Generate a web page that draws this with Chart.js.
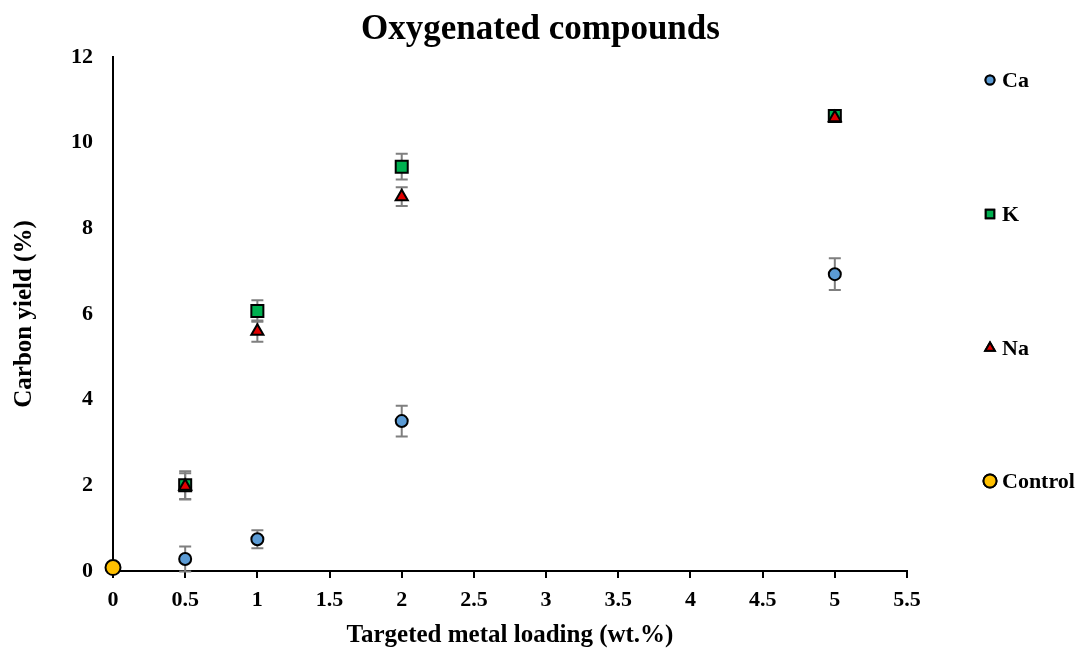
<!DOCTYPE html>
<html>
<head>
<meta charset="utf-8">
<script src="https://cdn.jsdelivr.net/npm/chart.js@4/dist/chart.umd.min.js"></script>
<style>
  html, body { margin: 0; padding: 0; background: #fff; }
  #wrap { width: 1081px; height: 655px; position: relative; }
</style>
</head>
<body>
<div id="wrap"><canvas id="chart"></canvas></div>
<script>
// metal loading (wt.%) and carbon yield (%) with standard deviations
const loadings = [0.5, 1, 2, 5];
const caYield = [0.28, 0.74, 3.50, 6.93];
const caErr = [0.29, 0.21, 0.36, 0.37];
const kYield = [2.00, 6.07, 9.44, 10.62];
const kErr = [0.33, 0.25, 0.30, 0.08];
const naYield = [1.98, 5.60, 8.74, 10.58];
const naErr = [0.30, 0.25, 0.22, 0.08];
const controlLoading = [0];
const controlYield = [0.08];
const controlErr = [0];
const xTicks = [0, 0.5, 1, 1.5, 2, 2.5, 3, 3.5, 4, 4.5, 5, 5.5];
const yTicks = [0, 2, 4, 6, 8, 10, 12];

const serif = "'Liberation Serif', 'Times New Roman', serif";

const pts = (xs, ys) => xs.map((x, i) => ({ x: x, y: ys[i] }));

const series = [
  { label: 'Ca', xs: loadings, ys: caYield, err: caErr, style: 'circle', color: '#5B9BD5', r: 6, order: 0 },
  { label: 'K', xs: loadings, ys: kYield, err: kErr, style: 'rect', color: '#00B050', r: 8.5, order: 2 },
  { label: 'Na', xs: loadings, ys: naYield, err: naErr, style: 'triangle', color: '#E00000', r: 7, order: 1 },
  { label: 'Control', xs: controlLoading, ys: controlYield, err: controlErr, style: 'circle', color: '#FFC000', r: 7.5, order: 0 }
];

// vertical error bars with caps, drawn beneath the markers
const errorBars = {
  id: 'errorBars',
  beforeDatasetsDraw(chart) {
    const { ctx, scales: { x, y } } = chart;
    ctx.save();
    ctx.strokeStyle = '#7F7F7F';
    ctx.lineWidth = 2;
    series.forEach(s => {
      s.xs.forEach((xv, i) => {
        const e = s.err[i];
        if (!e) return;
        const px = x.getPixelForValue(xv);
        const top = y.getPixelForValue(s.ys[i] + e);
        const bot = y.getPixelForValue(s.ys[i] - e);
        ctx.beginPath();
        ctx.moveTo(px, top); ctx.lineTo(px, bot);
        ctx.moveTo(px - 6, top); ctx.lineTo(px + 6, top);
        ctx.moveTo(px - 6, bot); ctx.lineTo(px + 6, bot);
        ctx.stroke();
      });
    });
    ctx.restore();
  }
};

// legend stacked down the right side
const sideLegend = {
  id: 'sideLegend',
  afterDraw(chart) {
    const { ctx } = chart;
    const rows = [80, 214, 348, 481];
    const sizes = [4.5, 6, 5.5, 6.5];
    ctx.save();
    ctx.font = 'bold 22px ' + serif;
    ctx.textBaseline = 'middle';
    series.forEach((s, i) => {
      ctx.fillStyle = s.color;
      ctx.strokeStyle = '#000';
      ctx.lineWidth = 2;
      Chart.helpers.drawPoint(ctx, { pointStyle: s.style, radius: sizes[i], borderWidth: 2 }, 990, rows[i]);
      ctx.fill();
      ctx.stroke();
      ctx.fillStyle = '#000';
      ctx.fillText(s.label, 1002, rows[i] + 1);
    });
    ctx.restore();
  }
};

const tickFont = { family: serif, size: 22, weight: 'bold' };
const titleFont = { family: serif, size: 25, weight: 'bold' };

new Chart(document.getElementById('chart'), {
  type: 'scatter',
  data: {
    datasets: series.map(s => ({
      label: s.label,
      data: pts(s.xs, s.ys),
      pointStyle: s.style,
      pointRadius: s.r,
      pointHoverRadius: s.r,
      backgroundColor: s.color,
      borderColor: '#000',
      pointBorderWidth: 2,
      order: s.order,
      clip: false
    }))
  },
  options: {
    responsive: true,
    maintainAspectRatio: false,
    animation: false,
    events: [],
    layout: { padding: { left: 0, right: 0, top: 0, bottom: 0 } },
    plugins: {
      legend: { display: false },
      tooltip: { enabled: false },
      title: {
        display: true,
        text: 'Oxygenated compounds',
        color: '#000',
        font: { family: serif, size: 35, weight: 'bold' },
        padding: { top: 9, bottom: 6 }
      }
    },
    scales: {
      x: {
        type: 'linear',
        min: 0, max: 5.5,
        afterBuildTicks: s => { s.ticks = xTicks.map(v => ({ value: v })); },
        afterFit: s => { s.height = 84; },
        border: { color: '#000', width: 2 },
        grid: { drawOnChartArea: false, drawTicks: true, tickLength: 7, color: '#000', lineWidth: 2 },
        ticks: { color: '#000', padding: 9, maxRotation: 0, font: tickFont, callback: v => String(v) },
        title: {
          display: true,
          text: 'Targeted metal loading (wt.%)',
          color: '#000',
          font: titleFont,
          padding: { top: 0, bottom: 4 }
        }
      },
      y: {
        min: 0, max: 12,
        afterBuildTicks: s => { s.ticks = yTicks.map(v => ({ value: v })); },
        afterFit: s => { s.width = 113; },
        border: { color: '#000', width: 2 },
        grid: { display: false, drawTicks: false },
        ticks: { color: '#000', padding: 20, font: tickFont, callback: v => String(v) },
        title: {
          display: true,
          text: 'Carbon yield (%)',
          color: '#000',
          font: titleFont,
          padding: { top: 10, bottom: 0 }
        }
      },
      // blank right-hand axis that reserves the legend column
      side: {
        type: 'linear',
        position: 'right',
        min: 0, max: 12,
        afterFit: s => { s.width = 174; },
        border: { display: false },
        grid: { display: false, drawTicks: false },
        ticks: { display: false }
      }
    }
  },
  plugins: [errorBars, sideLegend]
});
</script>
</body>
</html>
